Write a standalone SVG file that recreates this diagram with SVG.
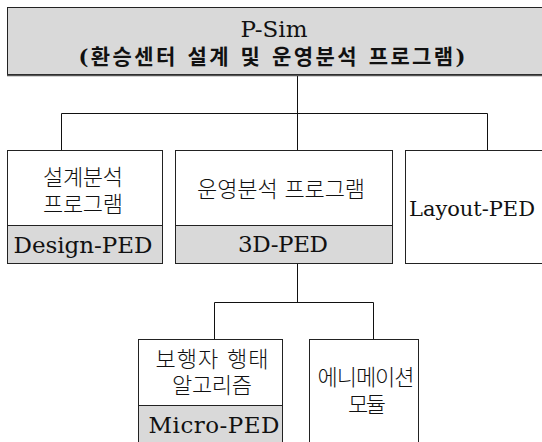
<svg xmlns="http://www.w3.org/2000/svg" width="542" height="442" viewBox="0 0 542 442">
<style>
.box{fill:#fff;stroke:#222;stroke-width:1}
.band{fill:#d9d9d9;stroke:#222;stroke-width:1}
.hdr{fill:#d9d9d9;stroke:#222;stroke-width:1}
.t{font-family:'DejaVu Serif','Noto Sans CJK KR',serif;fill:#111;text-anchor:middle}
.k{font-size:22px;font-weight:300}
.b{font-weight:bold}
.l{font-size:23px}
.conn{stroke:#111;stroke-width:1;fill:none}
</style>
<rect width="542" height="442" fill="#fff"/>
<g id="connectors">
<path class="conn" d="M297.5 75V113.5M61.5 150V113.5H487.5V150M297.5 113.5V150"/>
<path class="conn" d="M297.5 264V302.5M214.5 339V302.5H373.5V339"/>
</g>
<g id="psim">
<rect class="hdr" x="7.5" y="7.5" width="540" height="67"/>
<line x1="7" y1="75.5" x2="542" y2="75.5" stroke="#555" stroke-width="1.5"/>
<text class="t" x="274" y="37" font-size="23">P-Sim</text>
<text class="t b" x="272" y="64" font-size="21" textLength="387" lengthAdjust="spacing">(환승센터 설계 및 운영분석 프로그램)</text>
</g>
<g id="design">
<rect class="box" x="7.5" y="150.5" width="155" height="113"/>
<rect class="band" x="7.5" y="225.5" width="155" height="38"/>
<text class="t k" x="83" y="185" textLength="80" lengthAdjust="spacing">설계분석</text>
<text class="t k" x="83" y="212" textLength="80" lengthAdjust="spacing">프로그램</text>
<text class="t l" x="83" y="253" textLength="139" lengthAdjust="spacing">Design-PED</text>
</g>
<g id="ped3d">
<rect class="box" x="175.5" y="150.5" width="217" height="113"/>
<rect class="band" x="175.5" y="225.5" width="217" height="38"/>
<text class="t k" x="281" y="197" textLength="168" lengthAdjust="spacing">운영분석 프로그램</text>
<text class="t l" x="283" y="252" textLength="90" lengthAdjust="spacing">3D-PED</text>
</g>
<g id="layout">
<rect class="box" x="405.5" y="150.5" width="145" height="113"/>
<text x="409" y="216" font-size="21" font-family="'DejaVu Serif',serif" fill="#111" textLength="126" lengthAdjust="spacing">Layout-PED</text>
</g>
<g id="micro">
<rect class="box" x="138.5" y="339.5" width="144" height="110"/>
<rect class="band" x="138.5" y="405.5" width="144" height="44"/>
<text class="t k" x="212" y="367" textLength="113" lengthAdjust="spacing">보행자 행태</text>
<text class="t k" x="212" y="393" textLength="80" lengthAdjust="spacing">알고리즘</text>
<text class="t l" x="214" y="433" textLength="131" lengthAdjust="spacing">Micro-PED</text>
</g>
<g id="anim">
<rect class="box" x="309.5" y="339.5" width="109" height="110"/>
<text class="t k" x="366" y="385" textLength="97" lengthAdjust="spacing">에니메이션</text>
<text class="t k" x="367" y="412" textLength="38" lengthAdjust="spacing">모듈</text>
</g>
</svg>
